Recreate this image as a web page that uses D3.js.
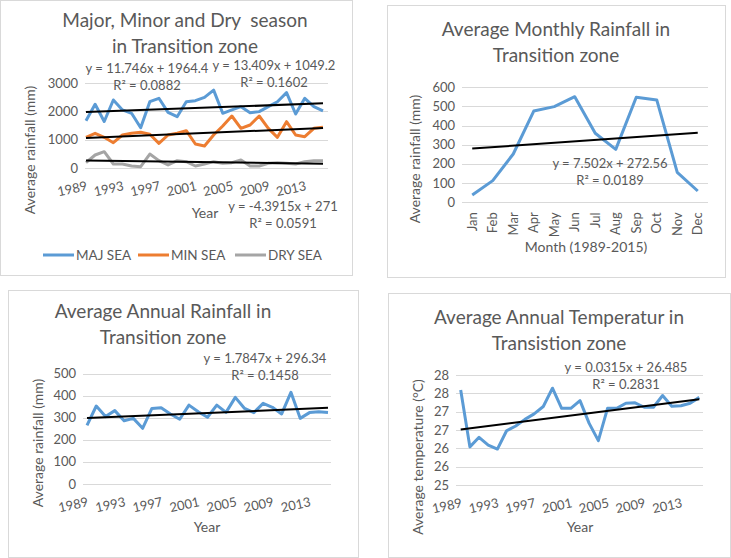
<!DOCTYPE html>
<html>
<head>
<meta charset="utf-8">
<script src="https://cdn.jsdelivr.net/npm/d3@7"></script>
<style>
  body { margin: 0; background: #fff; }
  svg { font-family: Lato, "Noto Sans", sans-serif; }
  .txt { fill: #595959; white-space: pre; }
</style>
</head>
<body>
<svg id="chart" width="731" height="558"></svg>
<script>
// years 1989-2015
var years = d3.range(1989, 2016);
var yearTicks = [1989, 1993, 1997, 2001, 2005, 2009, 2013];

// panel 1 : seasonal rainfall (mm)
var majSea = [1670, 2250, 1640, 2400, 2050, 1930, 1420, 2340, 2460, 1965, 1810, 2340, 2375, 2495,
  2750, 1930, 2050, 2165, 1950, 1990, 2165, 2340, 2660, 1905, 2460, 2165, 2020];
var minSea = [1083, 1225, 1083, 894, 1165, 1225, 1260, 1190, 870, 1165, 1225, 1317, 847, 777,
  1165, 1482, 1835, 1400, 1518, 1835, 1400, 1083, 1635, 1165, 1105, 1400, 1435];
var drySea = [188, 459, 577, 141, 141, 71, 47, 494, 259, 106, 259, 224, 71, 141,
  224, 165, 188, 282, 71, 71, 165, 188, 165, 141, 224, 259, 259];
var majTrend = [11.746, 1964.4], minTrend = [13.409, 1049.2], dryTrend = [-4.3915, 271];
var seasonTicks = [0, 1000, 2000, 3000];
var seasonNames = ["MAJ SEA", "MIN SEA", "DRY SEA"];

// panel 2 : monthly rainfall (mm)
var months = ["Jan", "Feb", "Mar", "Apr", "May", "Jun", "Jul", "Aug", "Sep", "Oct", "Nov", "Dec"];
var monthRain = [38, 113, 252, 476, 499, 551, 360, 276, 548, 534, 156, 59];
var monthTrend = [7.502, 272.56];
var monthTicks = [0, 100, 200, 300, 400, 500, 600];

// panel 3 : annual rainfall (mm)
var annualRain = [265, 353, 305, 332, 286, 297, 252, 342, 345, 317, 293, 357, 327, 302,
  357, 324, 392, 342, 323, 365, 347, 317, 415, 297, 323, 327, 324];
var annualTrend = [1.7847, 296.34];
var annualTicks = [0, 100, 200, 300, 400, 500];

// panel 4 : annual temperature (°C)
var annualTemp = [27.59, 26.04, 26.30, 26.09, 25.98, 26.48, 26.61, 26.79, 26.94, 27.14, 27.64, 27.09,
  27.09, 27.30, 26.68, 26.21, 27.09, 27.09, 27.23, 27.24, 27.12, 27.12, 27.44, 27.15, 27.16, 27.23, 27.39];
var tempTrend = [0.0315, 26.485];
var tempTicks = [25, 25.5, 26, 26.5, 27, 27.5, 28];
var tempTickLabels = ["25", "26", "26", "27", "27", "28", "28"];

var colors = ["#5B9BD5", "#ED7D31", "#A5A5A5"];
var svg = d3.select("#chart");

function panel(p) {
  var g = svg.append("g");
  g.append("rect").attr("x", p.box[0] + 0.5).attr("y", p.box[1] + 0.5)
    .attr("width", p.box[2]).attr("height", p.box[3])
    .attr("fill", "#fff").attr("stroke", "#D9D9D9");

  // title
  g.selectAll(".title").data(p.title).join("text").attr("class", "txt")
    .attr("x", p.titleX).attr("y", (d, i) => p.titleY + i * 26)
    .attr("text-anchor", "middle").style("font-size", "19px").text(d => d);

  var y = d3.scaleLinear().domain(p.yDomain).range(p.yRange);

  // gridlines + y labels
  g.selectAll(".grid").data(p.yTicks).join("line")
    .attr("x1", p.grid[0]).attr("x2", p.grid[1])
    .attr("y1", d => Math.round(y(d)) + 0.5).attr("y2", d => Math.round(y(d)) + 0.5)
    .attr("stroke", "#D9D9D9").attr("stroke-width", 1);
  g.selectAll(".ylab").data(p.yTicks).join("text").attr("class", "txt")
    .attr("x", p.grid[0] - 7).attr("y", d => y(d) + 4.5)
    .attr("text-anchor", "end").style("font-size", "13px")
    .text((d, i) => p.yLabels ? p.yLabels[i] : d);

  var x;
  if (p.band) {
    x = d3.scaleBand().domain(p.cats).range(p.grid);
    var cx = d => x(d) + x.bandwidth() / 2;
    g.selectAll(".xlab").data(p.cats).join("text").attr("class", "txt")
      .attr("transform", d => `translate(${cx(d) + 4.5},${p.yRange[0] + 10}) rotate(-90)`)
      .attr("text-anchor", "end").style("font-size", "13px").text(d => d);
    x.pos = cx;
  } else {
    x = d3.scalePoint().domain(p.cats).range(p.pts);
    g.selectAll(".xlab").data(yearTicks).join("text").attr("class", "txt")
      .attr("transform", d => `translate(${x(d) + 2},${p.yRange[0] + 22}) rotate(-12)`)
      .attr("text-anchor", "end").style("font-size", "13px").text(d => d);
    x.pos = d => x(d);
  }

  // series
  var line = d3.line().x((d, i) => x.pos(p.cats[i])).y(d => y(d));
  p.series.forEach(function (s, k) {
    g.append("path").datum(s).attr("d", line).attr("fill", "none")
      .attr("stroke", colors[k]).attr("stroke-width", 3).attr("stroke-linejoin", "round");
  });

  // linear trendlines, x = 1..n
  var n = p.cats.length;
  p.trends.forEach(function (t) {
    g.append("line")
      .attr("x1", x.pos(p.cats[0])).attr("y1", y(t[0] * 1 + t[1]))
      .attr("x2", x.pos(p.cats[n - 1])).attr("y2", y(t[0] * n + t[1]))
      .attr("stroke", "#000").attr("stroke-width", 2);
  });

  // equations
  p.eqs.forEach(function (e) {
    g.append("text").attr("class", "txt").attr("x", e[0]).attr("y", e[1])
      .attr("text-anchor", "middle").style("font-size", "13px").text(e[2]);
    g.append("text").attr("class", "txt").attr("x", e[0]).attr("y", e[1] + 17)
      .attr("text-anchor", "middle").style("font-size", "13px").text(e[3]);
  });

  // axis titles
  g.append("text").attr("class", "txt").attr("x", p.xTitle[0]).attr("y", p.xTitle[1])
    .attr("text-anchor", "middle").style("font-size", "14px").text(p.xTitle[2]);
  g.append("text").attr("class", "txt")
    .attr("transform", `translate(${p.yTitle[0]},${p.yTitle[1]}) rotate(-90)`)
    .attr("text-anchor", "middle").style("font-size", "14px").text(p.yTitle[2]);
  return g;
}

var p1 = panel({
  box: [0, 0, 352, 275], title: ["Major, Minor and Dry  season", "in Transition zone"], titleX: 185, titleY: 27,
  yDomain: [0, 3000], yRange: [168, 83], yTicks: seasonTicks, grid: [85, 328], pts: [86, 323],
  cats: years, series: [majSea, minSea, drySea], trends: [majTrend, minTrend, dryTrend],
  eqs: [[147, 73, "y = 11.746x + 1964.4", "R² = 0.0882"], [274, 70, "y = 13.409x + 1049.2", "R² = 0.1602"],
        [283, 211, "y = -4.3915x + 271", "R² = 0.0591"]],
  xTitle: [205, 218, "Year"], yTitle: [35, 150, "Average rainfall (mm)"]
});

// legend for panel 1
var legX = [43, 138, 235];
seasonNames.forEach(function (name, i) {
  p1.append("line").attr("x1", legX[i]).attr("x2", legX[i] + 31).attr("y1", 255).attr("y2", 255)
    .attr("stroke", colors[i]).attr("stroke-width", 3);
  p1.append("text").attr("class", "txt").attr("x", legX[i] + 33).attr("y", 260)
    .style("font-size", "13.5px").text(name);
});

panel({
  box: [387, 5, 338, 272], title: ["Average Monthly Rainfall in", "Transition zone"], titleX: 556, titleY: 36,
  yDomain: [0, 600], yRange: [202.3, 87.3], yTicks: monthTicks, grid: [462, 708], band: true,
  cats: months, series: [monthRain], trends: [monthTrend],
  eqs: [[610, 168, "y = 7.502x + 272.56", "R² = 0.0189"]],
  xTitle: [586, 252, "Month (1989-2015)"], yTitle: [420, 159, "Average rainfall (mm)"]
});

panel({
  box: [8, 290, 350, 267], title: ["Average Annual Rainfall in", "Transition zone"], titleX: 163, titleY: 318,
  yDomain: [0, 500], yRange: [484, 373.5], yTicks: annualTicks, grid: [83, 331], pts: [87, 328],
  cats: years, series: [annualRain], trends: [annualTrend],
  eqs: [[265, 363, "y = 1.7847x + 296.34", "R² = 0.1458"]],
  xTitle: [207, 532, "Year"], yTitle: [43, 443, "Average rainfall (mm)"]
});

panel({
  box: [388, 293, 342, 264], title: ["Average Annual Temperatur in", "Transistion zone"], titleX: 559, titleY: 324,
  yDomain: [25, 28], yRange: [485, 375], yTicks: tempTicks, yLabels: tempTickLabels, grid: [456, 703],
  pts: [460.7, 699.3], cats: years, series: [annualTemp], trends: [tempTrend],
  eqs: [[626, 372, "y = 0.0315x + 26.485", "R² = 0.2831"]],
  xTitle: [580, 532, "Year"], yTitle: [423, 457, "Average temperature (°C)"]
});
</script>
</body>
</html>
